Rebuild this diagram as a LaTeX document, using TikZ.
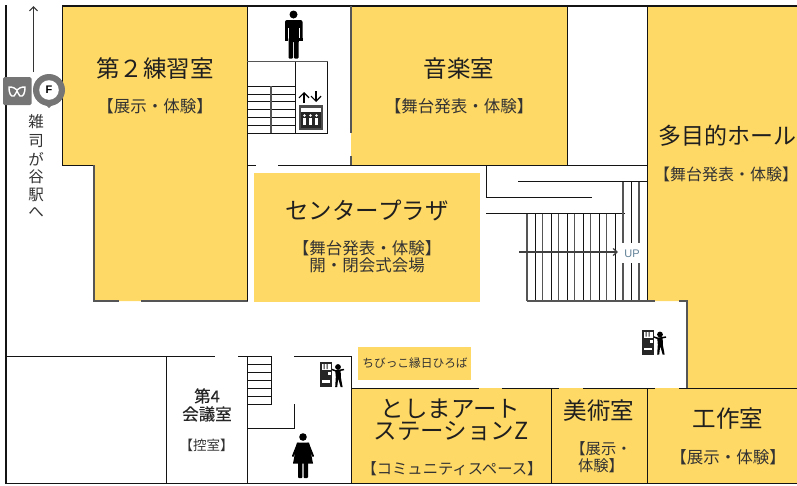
\documentclass[tikz,border=0pt]{standalone}
\usepackage{fontspec}
\setmainfont{Noto Sans CJK JP}
\setsansfont{Liberation Sans}
\newfontfamily\boldish[FakeBold=0.35]{Noto Sans CJK JP}
\usetikzlibrary{arrows.meta}
\definecolor{room}{HTML}{FFD966}
\definecolor{wall}{HTML}{141414}
\definecolor{graywall}{HTML}{555555}
\definecolor{markgray}{HTML}{757575}
\definecolor{uptext}{HTML}{5F7F96}
\tikzset{
  wallline/.style={draw=wall,line width=0.95pt},
  outer/.style={draw=wall,line width=1.7pt},
  soft/.style={draw=graywall,line width=1.1pt},
  tread/.style={draw=wall,line width=0.85pt},
  treadg/.style={draw=graywall,line width=1.1pt},
  roomfill/.style={fill=room,draw=none},
  big/.style={inner sep=0pt,font=\fontsize{23.5}{25}\selectfont,text=black!88},
  mid/.style={inner sep=0pt,font=\fontsize{16.5}{18}\selectfont,text=black!80},
  small/.style={inner sep=0pt,font=\fontsize{15.3}{17}\selectfont,text=black!80},
  vert/.style={inner sep=0pt,font=\fontsize{15.5}{17}\selectfont,text=black!80},
}
\newcommand{\vendingicon}[2]{%
  \begin{scope}[shift={(#1,#2)}]
    \fill[black!85] (0,0) rectangle (12,25);
    \fill[white] (1.5,2) rectangle (10.5,8);
    \fill[black!85] (3.5,2) rectangle (4.5,7) (6.5,2) rectangle (7.5,7);
    \fill[white] (2,18) rectangle (10,20.5);
    \fill[white] (8,10) rectangle (10.5,13);
    \fill[black] (18,5) circle (2.9);
    \fill[black] (15.2,8) -- (20.7,8) -- (20.8,15) -- (22.6,25) -- (20.6,25) -- (18.2,16.5) -- (17.2,25) -- (15.2,25) -- (15.8,15) -- cycle;
    \draw[black,line width=1.5pt] (12,7.5) -- (16,9) -- (24,7.5);
  \end{scope}}
\begin{document}
\begin{tikzpicture}[x=1pt,y=-1pt]
\useasboundingbox (0,0) rectangle (797,485);
% rooms
\fill[roomfill] (62,6) -- (247,6) -- (247,301) -- (94,301) -- (94,165) -- (62,165) -- cycle;
\fill[roomfill] (351,6) rectangle (567,165);
\fill[roomfill] (647,6) -- (797,6) -- (797,388) -- (687,388) -- (687,301) -- (647,301) -- cycle;
\fill[roomfill] (253.5,172.5) rectangle (479.5,301.5);
\fill[roomfill] (358,347) rectangle (471,380);
\fill[roomfill] (351,388) rectangle (797,483);
% outer walls
\draw[outer] (6,5) -- (6,484);
\draw[outer] (62,6) -- (797,6);
\draw[outer] (6,483.5) -- (797,483.5);
% upper walls
\draw[wallline] (62,6) -- (62,165) -- (95,165);
\draw[soft] (94,165) -- (94,301) -- (119,301);
\draw[soft] (141,301) -- (247.5,301);
\draw[wallline] (247,6) -- (247,301);
\draw[soft] (351,6) -- (351,133);
\draw[soft] (351,156) -- (351,165);
\draw[wallline] (247,165) -- (256,165);
\draw[wallline] (278,165) -- (647,165);
\draw[wallline] (567,6) -- (567,165);
\draw[wallline] (647,6) -- (647,301);
% upper stairs and lift
\draw[soft] (247,61.5) -- (328,61.5);
\draw[wallline] (295,61.5) -- (295,133);
\draw[wallline] (327,61.5) -- (327,133);
\draw[wallline] (247,133.5) -- (328,133.5);
\foreach \y in {86,94,101.5,109,117,125}{\draw[tread] (247,\y) -- (295,\y);}
\draw[soft] (271,86) -- (271,133);
% right stairs
\draw[wallline] (486,165) -- (486,197.5) -- (591.5,197.5);
\draw[wallline] (518,181.5) -- (647,181.5);
\draw[wallline] (486,213.5) -- (624.5,213.5);
\foreach \x in {527,542.7,558.7,574.7,590.7,606.7}{\draw[treadg] (\x,213.5) -- (\x,301);}
\foreach \x in {535.3,551.3,567.3,583.3,599.3,615.3}{\draw[tread] (\x,213.5) -- (\x,301);}
\foreach \x/\s in {623/treadg,631.5/tread,639/treadg}{
  \draw[\s] (\x,181.5) -- (\x,243);
  \draw[\s] (\x,263) -- (\x,301);}
\draw[soft] (526.5,301) -- (655,301);
\draw[soft] (679,301) -- (687,301) -- (687,388);
\draw[-{Straight Barb[length=4pt,width=7pt]},draw=black!75,line width=1.2pt] (519,252) -- (618,252);
% lower walls
\draw[wallline] (6,356) -- (215,356);
\draw[wallline] (238,356) -- (271,356) -- (271,404) -- (247,404);
\draw[wallline] (294,356) -- (351,356);
\foreach \y in {364,372,380,388,396}{\draw[tread] (247,\y) -- (271,\y);}
\draw[wallline] (166.5,356) -- (166.5,483);
\draw[wallline] (247,356) -- (247,483);
\draw[wallline] (351,356) -- (351,483);
\draw[wallline] (294.5,404) -- (294.5,428.5) -- (247,428.5);
\draw[wallline] (351,388) -- (479,388);
\draw[wallline] (502,388) -- (559,388);
\draw[wallline] (583,388) -- (655,388);
\draw[wallline] (679,388) -- (797,388);
\draw[wallline] (551,388) -- (551,483);
\draw[wallline] (647,388) -- (647,483);
% man
\fill[black] (293.5,14.5) circle (4);
\fill[black,rounded corners=2pt] (285,20) rectangle (302.5,42);
\fill[white] (287.6,28) rectangle (288.5,44);
\fill[white] (298.5,28) rectangle (299.4,44);
\fill[white] (284,40) rectangle (288.5,44);
\fill[white] (298.5,40) rectangle (303,44);
\fill[black] (285,38) rectangle (287.6,40.5);
\fill[black] (299.4,38) rectangle (302.5,40.5);
\fill[black,rounded corners=0.8pt] (288.5,38) rectangle (293,58.5);
\fill[black,rounded corners=0.8pt] (294,38) rectangle (298.5,58.5);
% woman
\fill[black] (303,437) circle (3.8);
\fill[black] (297,442.5) -- (309,442.5) -- (313,463.5) -- (293,463.5) -- cycle;
\draw[black,line width=2pt,line cap=round] (298,443.5) -- (293,456);
\draw[black,line width=2pt,line cap=round] (308,443.5) -- (313,456);
\fill[black,rounded corners=0.8pt] (298,462) rectangle (302.3,478);
\fill[black,rounded corners=0.8pt] (303.7,462) rectangle (308,478);
% vending machines
\vendingicon{320}{362}
\vendingicon{642}{329.5}
% lift icon
\fill[black!70] (298.5,105) rectangle (322.5,129.5);
\fill[white] (300.5,108) rectangle (320.5,112);
\fill[black!85] (300.5,112) rectangle (320.5,127.5);
\foreach \x in {304.5,310.5,316.5}{
  \fill[white] (\x,115.5) circle (1.3);
  \fill[white] (\x-1.2,117.5) rectangle (\x+1.2,125);}
\draw[-{Straight Barb[length=5pt,width=10pt]},draw=black,line width=1.2pt] (304,103) -- (304,92);
\draw[-{Straight Barb[length=5pt,width=10pt]},draw=black,line width=1.2pt] (316,91) -- (316,102);
% outside
\draw[-{Straight Barb[length=4pt,width=8pt]},draw=black!80,line width=1.2pt] (33.5,72) -- (33.5,6);
\fill[markgray,rounded corners=1.5pt] (3,77) rectangle (31.5,105);
\draw[white,line width=1.4pt] (9,87) .. controls (9,94) and (11,97) .. (14,96) .. controls (16,95) and (15.5,92) .. (17,91) .. controls (18.5,92) and (18,95) .. (20,96) .. controls (23,97) and (25,94) .. (25,87) .. controls (21,87) and (19,88) .. (17,90) .. controls (15,88) and (13,87) .. (9,87) -- cycle;
\fill[markgray] (49,90) circle (16);
\fill[markgray] (45,104) -- (53,104) -- (49,108) -- cycle;
\fill[white] (49,90) circle (9.8);
\node[inner sep=0pt,font=\sffamily\bfseries\fontsize{11}{11}\selectfont,text=black] (metroF) at (49,90) {F};
% labels
\node[big] (r2name) at (155,69) {第２練習室};
\node[mid] (r2use) at (155,106) {【展示・体験】};
\node[big] (musicname) at (459,69) {音楽室};
\node[mid] (musicuse) at (459,106) {【舞台発表・体験】};
\node[big,font=\fontsize{23}{25}\selectfont] (hallname) at (727,136) {多目的ホール};
\node[inner sep=0pt,font=\fontsize{16}{18}\selectfont,text=black!80] (halluse) at (726,174) {【舞台発表・体験】};
\node[big] (plazaname) at (367,210) {センタープラザ};
\node[mid] (plazause) at (367,248) {【舞台発表・体験】};
\node[mid] (plazaextra) at (367,265) {開・閉会式会場};
\node[inner sep=0pt,font=\boldish\fontsize{16.5}{18}\selectfont,text=black!85] (r4a) at (207,396) {第4};
\node[inner sep=0pt,font=\boldish\fontsize{16.5}{18}\selectfont,text=black!85] (r4b) at (207,414) {会議室};
\node[inner sep=0pt,font=\fontsize{13.5}{15}\selectfont,text=black!80] (r4use) at (206.5,445) {【控室】};
\node[big] (toshimaA) at (450.5,408.5) {としまアート};
\node[big] (toshimaB) at (451,431.5) {ステーションZ};
\node[small] (toshimause) at (452,469) {【コミュニティスペース】};
\node[big] (artname) at (599,411) {美術室};
\node[small] (artuseA) at (601,449) {【展示・};
\node[small] (artuseB) at (601,465.5) {体験】};
\node[big] (craftname) at (728,418.5) {工作室};
\node[mid] (craftuse) at (728,457) {【展示・体験】};
\node[inner sep=0pt,font=\fontsize{11.7}{13}\selectfont,text=black!80] (chibi) at (415,363) {ちびっこ縁日ひろば};
\node[inner sep=0pt,font=\sffamily\fontsize{11}{11}\selectfont,text=uptext] (up) at (632,254) {UP};
\node[vert] (v1) at (36,122) {雑};
\node[vert] (v2) at (36,141) {司};
\node[vert] (v3) at (36,159) {が};
\node[vert] (v4) at (36,177) {谷};
\node[vert] (v5) at (36,195) {駅};
\node[vert] (v6) at (36,212) {へ};
\end{tikzpicture}
\end{document}
